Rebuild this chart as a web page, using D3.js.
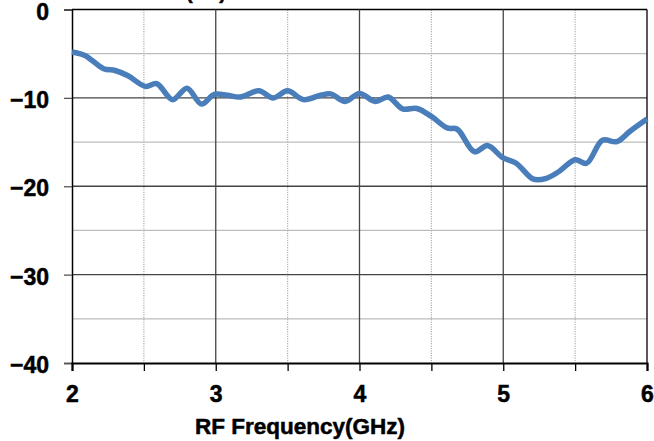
<!DOCTYPE html>
<html>
<head>
<meta charset="utf-8">
<script src="https://cdn.jsdelivr.net/npm/d3@7"></script>
<style>
  html, body { margin: 0; padding: 0; background: #fff; }
  svg { display: block; }
  text { font-family: "Liberation Sans", Arial, sans-serif; font-weight: bold; fill: #000; stroke: #000; stroke-width: 0.5px; }
</style>
</head>
<body>
<svg id="chart" width="654" height="441"></svg>
<script>
// Measured return loss vs. RF frequency
const frequencyGHz = [2.00, 2.09, 2.22, 2.30, 2.39, 2.51, 2.59, 2.70, 2.80, 2.90, 2.99, 3.08, 3.17, 3.30, 3.40, 3.50, 3.61, 3.73, 3.80, 3.90, 4.00, 4.11, 4.20, 4.30, 4.40, 4.50, 4.61, 4.68, 4.80, 4.89, 5.00, 5.09, 5.21, 5.30, 5.39, 5.50, 5.58, 5.69, 5.79, 5.88, 6.00];
const returnLossDb = [-4.8, -5.2, -6.7, -6.9, -7.5, -8.7, -8.4, -10.2, -8.9, -10.7, -9.6, -9.7, -9.9, -9.2, -10.0, -9.2, -10.2, -9.7, -9.55, -10.4, -9.5, -10.4, -9.9, -11.25, -11.2, -12.1, -13.4, -13.55, -16.1, -15.4, -16.8, -17.4, -19.2, -19.1, -18.3, -17.0, -17.4, -14.8, -14.95, -13.8, -12.4];

const xMajorTicks = [2, 3, 4, 5, 6];
const xMinorTicks = [2.5, 3.5, 4.5, 5.5];
const yMajorTicks = [0, -10, -20, -30, -40];
const yMinorTicks = [-5, -15, -25, -35];
const xAxisTitle = "RF Frequency(GHz)";
const topTitle = "(dB)";

const svg = d3.select("#chart");
const plotLeft = 72, plotRight = 647, plotTop = 9.5, plotBottom = 363;

const x = d3.scaleLinear().domain([2, 6]).range([plotLeft, plotRight]);
const y = d3.scaleLinear().domain([-40, 0]).range([plotBottom, plotTop]);

// partially clipped title above the plot
svg.append("text")
  .attr("x", 206).attr("y", -1)
  .attr("text-anchor", "middle")
  .style("font-size", "20px")
  .text(topTitle);

const grid = svg.append("g");

// minor horizontal gridlines
grid.selectAll(".ymin").data(yMinorTicks).enter().append("line")
  .attr("x1", plotLeft).attr("x2", plotRight)
  .attr("y1", d => y(d)).attr("y2", d => y(d))
  .attr("stroke", "#bdbdbd").attr("stroke-width", 1.2);

// minor vertical gridlines (dotted)
grid.selectAll(".xmin").data(xMinorTicks).enter().append("line")
  .attr("x1", d => x(d)).attr("x2", d => x(d))
  .attr("y1", plotTop).attr("y2", plotBottom)
  .attr("stroke", "#b0b0b0").attr("stroke-width", 1.2)
  .attr("stroke-dasharray", "1.2,1.2");

// major horizontal gridlines
grid.selectAll(".ymaj").data(yMajorTicks.filter(d => d !== -40)).enter().append("line")
  .attr("x1", plotLeft).attr("x2", plotRight)
  .attr("y1", d => y(d)).attr("y2", d => y(d))
  .attr("stroke", d => d === 0 ? "#000" : "#444").attr("stroke-width", 1.3);

// major vertical gridlines
grid.selectAll(".xmaj").data(xMajorTicks.filter(d => d !== 2)).enter().append("line")
  .attr("x1", d => x(d)).attr("x2", d => x(d))
  .attr("y1", plotTop).attr("y2", plotBottom)
  .attr("stroke", d => d === 6 ? "#000" : "#444").attr("stroke-width", 1.3);

// y axis
const yAxis = d3.axisLeft(y).tickValues(yMajorTicks).tickSize(8).tickPadding(15).tickFormat(d3.format("d"));
const gy = svg.append("g").attr("transform", `translate(${plotLeft},0)`).call(yAxis);
gy.select(".domain").attr("stroke", "#000").attr("stroke-width", 1.5);
gy.selectAll(".tick line").attr("stroke", "#555").attr("stroke-width", 1.3);
gy.selectAll(".tick text").style("font-size", "23px").attr("dy", "0.42em");

// x axis
const xAxis = d3.axisBottom(x).tickValues(xMajorTicks.concat(xMinorTicks)).tickSize(8).tickPadding(15)
  .tickFormat(d => Number.isInteger(d) ? d3.format("d")(d) : "");
const gx = svg.append("g").attr("transform", `translate(0,${plotBottom})`).call(xAxis);
gx.select(".domain").attr("stroke", "#000").attr("stroke-width", 2.2);
gx.selectAll(".tick line").attr("stroke", "#000").attr("stroke-width", 1.3);
gx.selectAll(".tick text").style("font-size", "23px");

// x axis title
svg.append("text")
  .attr("x", 300).attr("y", 434)
  .attr("text-anchor", "middle")
  .style("font-size", "22.5px")
  .text(xAxisTitle);

// data line
const line = d3.line()
  .x((d, i) => x(frequencyGHz[i]))
  .y(d => y(d))
  .curve(d3.curveCatmullRom.alpha(0.5));

svg.append("path")
  .datum(returnLossDb)
  .attr("fill", "none")
  .attr("stroke", "#4a7ebb")
  .attr("stroke-width", 5.5)
  .attr("stroke-linejoin", "round")
  .attr("stroke-linecap", "butt")
  .attr("d", line);
</script>
</body>
</html>
